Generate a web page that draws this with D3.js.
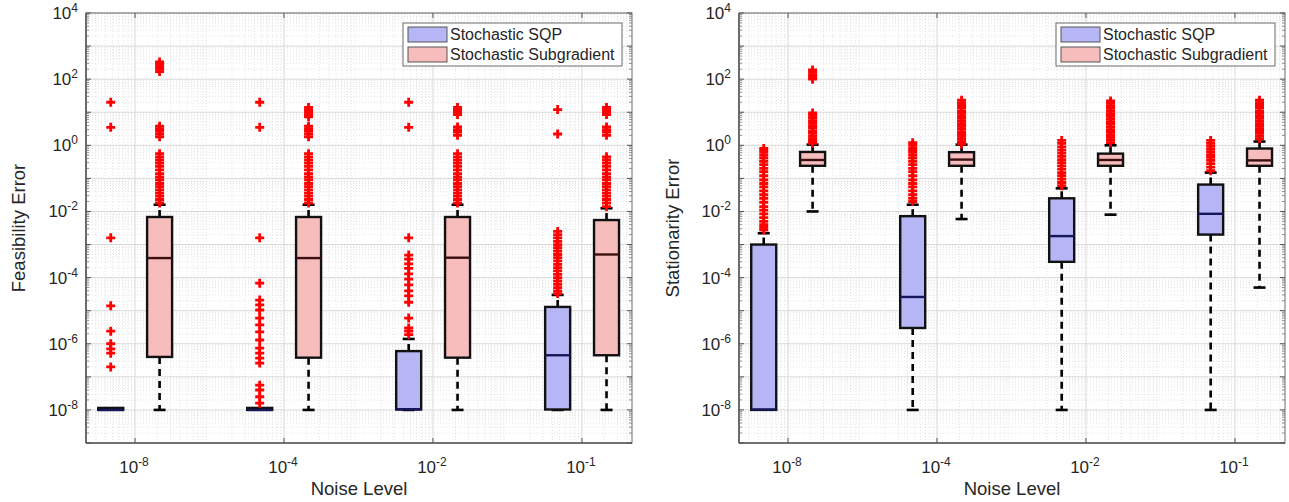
<!DOCTYPE html>
<html>
<head>
<meta charset="utf-8">
<script src="https://cdn.jsdelivr.net/npm/d3@7"></script>
<style>
    body { margin: 0; background: #fff; }
    text { font-family: "Liberation Sans", Arial, sans-serif; fill: #262626; }
</style>
</head>
<body>
<svg id="chart" width="1289" height="502"></svg>
<script>
//Noise levels on the x axis (exponents of ten)
var noiseExponents = ["-8", "-4", "-2", "-1"];
//Y axis decades
var yDecades = [-8, -6, -4, -2, 0, 2, 4];
var seriesNames = ["Stochastic SQP", "Stochastic Subgradient"];

//Box stats per noise level: [lower whisker, q1, median, q3, upper whisker]
var feasSqpBoxes = [
    [1e-8, 1e-8, 1e-8, 1.15e-8, 1.15e-8],
    [1e-8, 1e-8, 1e-8, 1.15e-8, 1.15e-8],
    [1e-8, 1.03e-8, 1.05e-8, 6e-7, 1.4e-6],
    [1e-8, 1.03e-8, 4.5e-7, 1.3e-5, 3e-5]
];
var feasSqpOutliers = [
    [20, 3.5, 1.6e-3, 1.4e-5, 2.4e-6, 1e-6, 7e-7, 5.2e-7, 2e-7],
    [20, 3.5, 1.6e-3, 6.8e-5, 2.1e-5, 1.5e-5, 1.05e-5, 6e-6, 3.7e-6, 2.3e-6, 1.3e-6, 7.4e-7, 5.2e-7, 3.7e-7, 2.6e-7, 5.6e-8, 4e-8, 2.5e-8, 1.6e-8],
    [20, 3.5, 1.6e-3, 4.8e-4, 3.6e-4, 2.6e-4, 1.9e-4, 1.3e-4, 9e-5, 6e-5, 4e-5, 2.8e-5, 1.8e-5, 6e-6, 3e-6, 2.4e-6, 1.9e-6],
    [12, 2.2, 2.5e-3, 2e-3, 1.6e-3, 1.25e-3, 1e-3, 8e-4, 6.3e-4, 5e-4, 4e-4, 3.2e-4, 2.5e-4, 2e-4, 1.6e-4, 1.25e-4, 1e-4, 8e-5, 6.3e-5, 5e-5, 4e-5, 3.3e-5]
];
var feasSubBoxes = [
    [1e-8, 4e-7, 3.9e-4, 6.8e-3, 1.6e-2],
    [1e-8, 3.8e-7, 3.9e-4, 6.8e-3, 1.6e-2],
    [1e-8, 3.8e-7, 4e-4, 6.8e-3, 1.6e-2],
    [1e-8, 4.5e-7, 5e-4, 5.5e-3, 1.25e-2]
];
var feasSubOutliers = [
    [330, 280, 240, 200, 170, 3.8, 3.2, 2.7, 2.2, 1.8, 0.56, 0.45, 0.36, 0.29, 0.23, 0.18, 0.14, 0.11, 0.09, 0.07, 0.056, 0.045, 0.036, 0.029, 0.023, 0.018],
    [14, 12, 10, 8.5, 7.3, 3.8, 3.2, 2.7, 2.2, 1.8, 0.56, 0.45, 0.36, 0.29, 0.23, 0.18, 0.14, 0.11, 0.09, 0.07, 0.056, 0.045, 0.036, 0.029, 0.023, 0.018],
    [14, 12, 10, 8.5, 3.6, 3, 2.5, 2, 0.56, 0.45, 0.36, 0.29, 0.23, 0.18, 0.14, 0.11, 0.09, 0.07, 0.056, 0.045, 0.036, 0.029, 0.023, 0.018],
    [14, 12, 10, 8.5, 3.6, 3, 2.5, 2, 0.45, 0.36, 0.29, 0.23, 0.18, 0.14, 0.11, 0.09, 0.07, 0.056, 0.045, 0.036, 0.029, 0.023, 0.018, 0.014]
];

var statSqpBoxes = [
    [1e-8, 1e-8, 1.03e-8, 1e-3, 2.2e-3],
    [1e-8, 3e-6, 2.6e-5, 7.2e-3, 1.6e-2],
    [1e-8, 3e-4, 1.8e-3, 2.5e-2, 5e-2],
    [1e-8, 2e-3, 8.5e-3, 6.5e-2, 0.15]
];
var statSqpOutliers = [
    [0.8, 0.65, 0.52, 0.42, 0.33, 0.26, 0.2, 0.16, 0.12, 0.09, 0.07, 0.055, 0.042, 0.032, 0.025, 0.019, 0.014, 0.011, 0.0085, 0.0065, 0.005, 0.004, 0.0033, 0.0028],
    [1.2, 1, 0.8, 0.65, 0.52, 0.42, 0.33, 0.26, 0.2, 0.16, 0.12, 0.09, 0.07, 0.055, 0.042, 0.032, 0.025, 0.02],
    [1.4, 1.15, 0.9, 0.72, 0.58, 0.46, 0.37, 0.3, 0.24, 0.19, 0.15, 0.12, 0.095, 0.075, 0.06],
    [1.4, 1.15, 0.95, 0.78, 0.64, 0.52, 0.43, 0.35, 0.28, 0.22, 0.17]
];
var statSubBoxes = [
    [1e-2, 0.24, 0.36, 0.63, 1.05],
    [5.9e-3, 0.24, 0.37, 0.62, 1.05],
    [8e-3, 0.24, 0.36, 0.56, 1.0],
    [5e-5, 0.24, 0.35, 0.8, 1.3]
];
var statSubOutliers = [
    [190, 160, 135, 115, 100, 9.5, 8, 6.8, 5.6, 4.7, 3.9, 3.3, 2.7, 2.3, 1.9, 1.6, 1.35, 1.15],
    [23, 19, 16, 13.5, 11, 9.3, 7.8, 6.5, 5.4, 4.5, 3.8, 3.2, 2.6, 2.2, 1.85, 1.55, 1.3, 1.1],
    [22, 18.5, 15.5, 13, 10.8, 9, 7.5, 6.3, 5.2, 4.4, 3.6, 3, 2.5, 2.1, 1.75, 1.45, 1.2],
    [23, 19, 16, 13.5, 11, 9.3, 7.8, 6.5, 5.4, 4.5, 3.8, 3.2, 2.7, 2.3, 1.9, 1.6]
];

//Colors
var fills = ["#b6b6f6", "#f7bcbc"];
var medianColors = ["#16165a", "#3a1010"];

var svg = d3.select("#chart");

/**
 * Draws a log-scale superscript label "10^e"
 */
function powLabel(sel, e) {
    sel.append("tspan").text("10");
    sel.append("tspan").attr("dy", -7).style("font-size", "12px").text(e);
}

/**
 * Draws one boxplot panel
 */
function drawPanel(cfg) {
    var top = 13, bottom = 443;
    var x = d3.scaleLinear().domain([0.671, 4.336]).range([cfg.x0, cfg.x1]);
    var y = d3.scaleLog().domain([1e-9, 1e4]).range([bottom, top]);
    var g = svg.append("g");

    //Minor grid (horizontal)
    var minorY = [];
    for (var d = -9; d < 4; d++) {
        for (var k = 2; k <= 9; k++) minorY.push(k * Math.pow(10, d));
    }
    g.selectAll(".minorY").data(minorY).enter().append("line")
        .attr("x1", cfg.x0).attr("x2", cfg.x1)
        .attr("y1", function(v){ return y(v); }).attr("y2", function(v){ return y(v); })
        .attr("stroke", "#dcdcdc").attr("stroke-width", 0.8).attr("stroke-dasharray", "1,2");

    //Minor grid (vertical), log-like pattern between categories
    var minorX = [];
    for (var c = 0; c <= 4; c++) {
        for (var h = 0; h < 2; h++) {
            for (var k2 = 2; k2 <= 9; k2++) {
                var p = c + h * 0.5 + Math.log10(k2) / 2;
                if (p > x.domain()[0] && p < x.domain()[1]) minorX.push(p);
            }
        }
    }
    g.selectAll(".minorX").data(minorX).enter().append("line")
        .attr("y1", top).attr("y2", bottom)
        .attr("x1", function(v){ return x(v); }).attr("x2", function(v){ return x(v); })
        .attr("stroke", "#dcdcdc").attr("stroke-width", 0.8).attr("stroke-dasharray", "1,2");

    //Major grid
    var majorDecades = yDecades.concat([-9, -7, -5, -3, -1, 1, 3]);
    g.selectAll(".majorY").data(majorDecades).enter().append("line")
        .attr("x1", cfg.x0).attr("x2", cfg.x1)
        .attr("y1", function(e){ return y(Math.pow(10, e)); }).attr("y2", function(e){ return y(Math.pow(10, e)); })
        .attr("stroke", "#d9d9d9").attr("stroke-width", 1);
    g.selectAll(".majorX").data(noiseExponents).enter().append("line")
        .attr("y1", top).attr("y2", bottom)
        .attr("x1", function(e, i){ return x(i + 1); }).attr("x2", function(e, i){ return x(i + 1); })
        .attr("stroke", "#d9d9d9").attr("stroke-width", 1);

    //Boxes for each series
    var offsets = [-0.163, 0.165];
    var boxW = 25;
    [cfg.sqpBoxes, cfg.subBoxes].forEach(function(boxes, s) {
        var outs = s === 0 ? cfg.sqpOut : cfg.subOut;
        boxes.forEach(function(b, i) {
            var cx = x(i + 1 + offsets[s]);
            //Lower whisker
            if (b[0] < b[1]) {
                g.append("line").attr("x1", cx).attr("x2", cx)
                    .attr("y1", y(b[1])).attr("y2", y(b[0]))
                    .attr("stroke", "#000").attr("stroke-width", 2.6).attr("stroke-dasharray", "7,5");
                g.append("line").attr("x1", cx - 6).attr("x2", cx + 6)
                    .attr("y1", y(b[0])).attr("y2", y(b[0]))
                    .attr("stroke", "#000").attr("stroke-width", 2.6);
            }
            //Upper whisker
            if (b[4] > b[3]) {
                g.append("line").attr("x1", cx).attr("x2", cx)
                    .attr("y1", y(b[3])).attr("y2", y(b[4]))
                    .attr("stroke", "#000").attr("stroke-width", 2.6).attr("stroke-dasharray", "7,5");
                g.append("line").attr("x1", cx - 6).attr("x2", cx + 6)
                    .attr("y1", y(b[4])).attr("y2", y(b[4]))
                    .attr("stroke", "#000").attr("stroke-width", 2.6);
            }
            //Box
            g.append("rect")
                .attr("x", cx - boxW / 2).attr("width", boxW)
                .attr("y", y(b[3])).attr("height", Math.max(0, y(b[1]) - y(b[3])))
                .attr("fill", fills[s]).attr("stroke", "#111").attr("stroke-width", 2.4);
            //Median
            g.append("line").attr("x1", cx - boxW / 2).attr("x2", cx + boxW / 2)
                .attr("y1", y(b[2])).attr("y2", y(b[2]))
                .attr("stroke", medianColors[s]).attr("stroke-width", 2.4);
            //Outliers
            g.selectAll(null).data(outs[i]).enter().append("path")
                .attr("d", "M-4.5,0H4.5M0,-4.5V4.5")
                .attr("transform", function(v){ return "translate(" + cx + "," + y(v) + ")"; })
                .attr("stroke", "#ff0000").attr("stroke-width", 2.8).attr("fill", "none");
        });
    });

    //Axes box
    g.append("rect").attr("x", cfg.x0).attr("y", top)
        .attr("width", cfg.x1 - cfg.x0).attr("height", bottom - top)
        .attr("fill", "none").attr("stroke", "#6b6b6b").attr("stroke-width", 1);
    g.append("line").attr("x1", cfg.x0).attr("x2", cfg.x0).attr("y1", top).attr("y2", bottom)
        .attr("stroke", "#3a3a3a").attr("stroke-width", 1.2);
    g.append("line").attr("x1", cfg.x0).attr("x2", cfg.x1).attr("y1", bottom).attr("y2", bottom)
        .attr("stroke", "#3a3a3a").attr("stroke-width", 1.2);

    //Y ticks (major and minor, on both sides)
    [cfg.x0, cfg.x1].forEach(function(ax, side) {
        var dir = side === 0 ? 1 : -1;
        g.selectAll(null).data(majorDecades).enter().append("line")
            .attr("x1", ax).attr("x2", ax + dir * 5)
            .attr("y1", function(e){ return y(Math.pow(10, e)); }).attr("y2", function(e){ return y(Math.pow(10, e)); })
            .attr("stroke", "#555").attr("stroke-width", 1);
        g.selectAll(null).data(minorY).enter().append("line")
            .attr("x1", ax).attr("x2", ax + dir * 3)
            .attr("y1", function(v){ return y(v); }).attr("y2", function(v){ return y(v); })
            .attr("stroke", "#777").attr("stroke-width", 0.8);
    });
    //X ticks (bottom and top)
    [bottom, top].forEach(function(ay, side) {
        var dir = side === 0 ? -1 : 1;
        g.selectAll(null).data(noiseExponents).enter().append("line")
            .attr("x1", function(e, i){ return x(i + 1); }).attr("x2", function(e, i){ return x(i + 1); })
            .attr("y1", ay).attr("y2", ay + dir * 5)
            .attr("stroke", "#555").attr("stroke-width", 1);
    });

    //Y tick labels
    yDecades.forEach(function(e) {
        var t = g.append("text").attr("x", cfg.x0 - 8).attr("y", y(Math.pow(10, e)) + 6)
            .attr("text-anchor", "end").style("font-size", "17px");
        powLabel(t, String(e));
    });
    //X tick labels
    noiseExponents.forEach(function(e, i) {
        var t = g.append("text").attr("x", x(i + 1) - 1).attr("y", 473)
            .attr("text-anchor", "middle").style("font-size", "17px");
        powLabel(t, e);
    });

    //Axis titles
    g.append("text").attr("x", (cfg.x0 + cfg.x1) / 2).attr("y", 495)
        .attr("text-anchor", "middle").style("font-size", "18.5px").text("Noise Level");
    g.append("text")
        .attr("transform", "translate(" + cfg.labelX + "," + ((top + bottom) / 2) + ") rotate(-90)")
        .attr("text-anchor", "middle").style("font-size", "18.5px").text(cfg.yLabel);

    //Legend
    var lx = cfg.x1 - 229, ly = 23;
    var leg = g.append("g").attr("transform", "translate(" + lx + "," + ly + ")");
    leg.append("rect").attr("width", 219).attr("height", 43)
        .attr("fill", "#fff").attr("stroke", "#6b6b6b").attr("stroke-width", 1);
    seriesNames.forEach(function(name, s) {
        leg.append("rect").attr("x", 5).attr("y", 4 + s * 20).attr("width", 39).attr("height", 15)
            .attr("fill", fills[s]).attr("stroke", "#555").attr("stroke-width", 1);
        leg.append("text").attr("x", 47).attr("y", 17 + s * 20)
            .style("font-size", "16px").text(name);
    });
}

drawPanel({
    x0: 86, x1: 632, labelX: 25, yLabel: "Feasibility Error",
    sqpBoxes: feasSqpBoxes, sqpOut: feasSqpOutliers,
    subBoxes: feasSubBoxes, subOut: feasSubOutliers
});
drawPanel({
    x0: 739, x1: 1285, labelX: 679, yLabel: "Stationarity Error",
    sqpBoxes: statSqpBoxes, sqpOut: statSqpOutliers,
    subBoxes: statSubBoxes, subOut: statSubOutliers
});
</script>
</body>
</html>
